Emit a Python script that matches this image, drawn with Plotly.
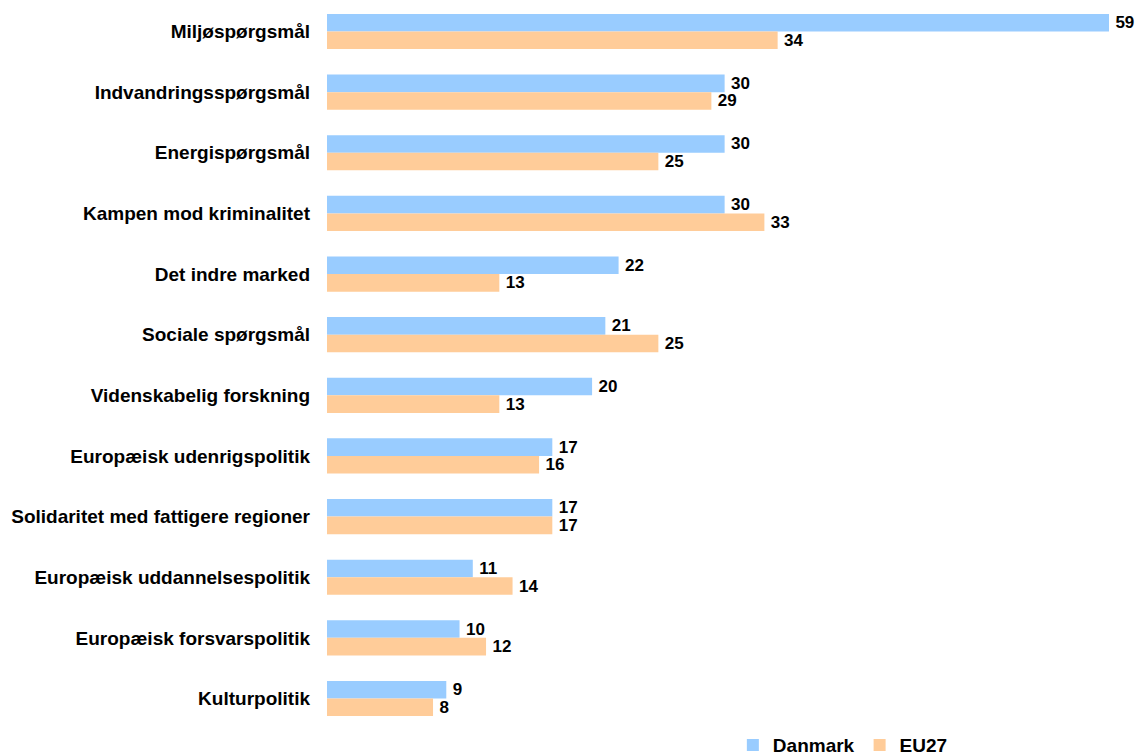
import plotly.graph_objects as go

categories = [
    "Miljøspørgsmål",
    "Indvandringsspørgsmål",
    "Energispørgsmål",
    "Kampen mod kriminalitet",
    "Det indre marked",
    "Sociale spørgsmål",
    "Videnskabelig forskning",
    "Europæisk udenrigspolitik",
    "Solidaritet med fattigere regioner",
    "Europæisk uddannelsespolitik",
    "Europæisk forsvarspolitik",
    "Kulturpolitik",
]
danmark = [59, 30, 30, 30, 22, 21, 20, 17, 17, 11, 10, 9]
eu27 = [34, 29, 25, 33, 13, 25, 13, 16, 17, 14, 12, 8]

FONT = "Liberation Sans, Arial, sans-serif"
lab_font = dict(family=FONT, size=17, color="#000000", weight="bold")

fig = go.Figure()
fig.add_trace(go.Bar(
    y=categories, x=danmark, name="Danmark", orientation="h",
    marker=dict(color="#99CCFF", line=dict(width=0)),
    texttemplate="\u2009%{x}", textposition="outside", cliponaxis=False,
    constraintext="none", textfont=lab_font,
))
fig.add_trace(go.Bar(
    y=categories, x=eu27, name="EU27", orientation="h",
    marker=dict(color="#FFCC99", line=dict(width=0)),
    texttemplate="\u2009%{x}", textposition="outside", cliponaxis=False,
    constraintext="none", textfont=lab_font,
))

fig.update_layout(
    width=1138, height=756,
    margin=dict(l=327, r=29, t=8, b=27, autoexpand=False),
    barmode="group", bargap=0.42, bargroupgap=0,
    plot_bgcolor="white", paper_bgcolor="white",
    font=dict(family=FONT, size=19, color="#000000", weight="bold"),
    xaxis=dict(range=[0, 59], visible=False, showgrid=False, zeroline=False),
    yaxis=dict(range=[11.503, -0.3875], showgrid=False, zeroline=False, showline=False,
               ticks="", ticklabelstandoff=16, automargin=False,
               tickfont=dict(family=FONT, size=19, color="#000000", weight="bold")),
    legend=dict(orientation="h", x=0.519, y=0.004, xanchor="left", yanchor="top",
                font=dict(family=FONT, size=19, color="#000000", weight="bold"),
                itemwidth=30, traceorder="normal"),
    showlegend=True,
    uniformtext=dict(mode=False),
)

fig.write_html(
    "out.html",
    config={"displayModeBar": False},
    post_script="document.body.style.margin='0';document.body.style.overflow='hidden';",
)
